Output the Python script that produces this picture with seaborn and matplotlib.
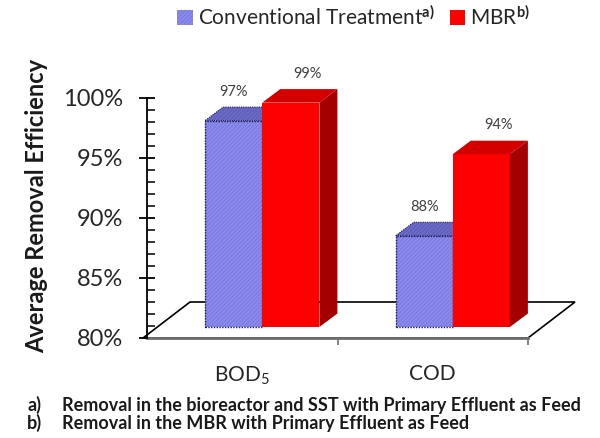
import numpy as np
import pandas as pd
import matplotlib
matplotlib.use("Agg")
import matplotlib.pyplot as plt
import matplotlib.transforms as mtransforms
from matplotlib.patches import Polygon, Rectangle, Patch
from matplotlib.ticker import MultipleLocator, FixedLocator, FuncFormatter
import seaborn as sns

# ---------------- data ----------------
parameters = ["BOD$_5$", "COD"]
processes = ["Conventional Treatment", "MBR"]
process_marks = ["a)", "b)"]
conventional = [97.2, 87.6]
mbr = [98.7, 94.4]
base_value = 80
y_tick_values = [80, 85, 90, 95, 100]
note_marks = ["a)", "b)"]
notes = ["Removal in the bioreactor and SST with Primary Effluent as Feed",
         "Removal in the MBR with Primary Effluent as Feed"]
y_label = "Average Removal Efficiency"

# ---------------- style ----------------
sns.set_theme(style="white")
plt.rcParams["font.family"] = ["Lato", "DejaVu Sans"]
plt.rcParams["mathtext.fontset"] = "custom"
plt.rcParams["mathtext.rm"] = "Lato"
plt.rcParams["mathtext.it"] = "Lato:italic"
plt.rcParams["mathtext.bf"] = "Lato:bold"
plt.rcParams["hatch.linewidth"] = 0.5

front_colors = {"Conventional Treatment": "#8a8aee", "MBR": "#ff0000"}
top_colors = ["#6a6ac6", "#d40000"]
side_colors = ["#5252a8", "#a50000"]
hatch_colors = ["#7474d6", None]
label_dx = [0, 17]
HATCH = "////////"

SHIFT = (20, 11)      # pixels: bars sit mid-depth on the floor
DEPTH = (18, 13.5)    # pixels: bar depth
FLOOR = (47, 36)      # pixels: floor depth

df = pd.DataFrame({
    "parameter": parameters * 2,
    "process": [processes[0]] * len(parameters) + [processes[1]] * len(parameters),
    "value": conventional + mbr,
})

fig = plt.figure(figsize=(6, 4.38), dpi=100)
ax = fig.add_axes([147 / 600, 100 / 438, 381 / 600, 240 / 438])

sns.barplot(data=df, x="parameter", y="value", hue="process", order=parameters,
            hue_order=processes, palette=front_colors, saturation=1, width=0.6,
            errorbar=None, linewidth=0, legend=False, ax=ax)

ax.set_xlim(-0.5, len(parameters) - 0.5)
ax.set_ylim(y_tick_values[0], y_tick_values[-1])

def disp(x, y):
    return ax.transData.transform((x, y))

# floor
xl, xr = ax.get_xlim()
y0 = ax.get_ylim()[0]
fl = disp(xl, y0) + (-4, 0)
fr = disp(xr, y0)
floor = Polygon([fl, fr, fr + FLOOR, fl + FLOOR], closed=True, facecolor="white",
                edgecolor="black", linewidth=1.2, transform=mtransforms.IdentityTransform(),
                clip_on=False, zorder=1)
ax.add_patch(floor)

shift_trans = mtransforms.offset_copy(ax.transData, fig=fig, x=SHIFT[0], y=SHIFT[1], units="dots")
for h, cont in enumerate(ax.containers):
    for i, p in enumerate(cont.patches):
        z = 3 + h
        top_val = p.get_y() + p.get_height()
        # bars rise from the floor of the value axis
        p.set_y(y0)
        p.set_height(top_val - y0)
        p.set_transform(shift_trans)
        p.set_clip_on(False)
        p.set_zorder(z)
        x0, w = p.get_x(), p.get_width()
        yb, y1 = p.get_y(), p.get_y() + p.get_height()
        A = disp(x0, y1) + SHIFT
        B = disp(x0 + w, y1) + SHIFT
        C = disp(x0 + w, yb) + SHIFT
        D = np.array(DEPTH)
        top = Polygon([A, B, B + D, A + D], closed=True, facecolor=top_colors[h],
                      edgecolor="none", transform=mtransforms.IdentityTransform(),
                      clip_on=False, zorder=z)
        side = Polygon([C, B, B + D, C + D], closed=True, facecolor=side_colors[h],
                       edgecolor="none", transform=mtransforms.IdentityTransform(),
                       clip_on=False, zorder=z)
        ax.add_patch(top)
        ax.add_patch(side)
        if hatch_colors[h] is not None:
            p.set_hatch(HATCH)
            p.set_edgecolor(hatch_colors[h])
            top.set_hatch(HATCH)
            top.set_edgecolor("#5a5ab4")
            top.set_linewidth(0)
            outline = Rectangle((x0, yb), w, y1 - yb, fill=False, edgecolor="#1c1c5c",
                                linewidth=1.0, linestyle=(0, (1, 1)), transform=shift_trans,
                                clip_on=False, zorder=z + 0.1)
            ax.add_patch(outline)
            top_outline = Polygon([A, B, B + D, A + D], closed=True, fill=False,
                                  edgecolor="#1c1c5c", linewidth=0.8, linestyle=(0, (1, 1)),
                                  transform=mtransforms.IdentityTransform(), clip_on=False,
                                  zorder=z + 0.1)
            ax.add_patch(top_outline)
        ax.annotate(f"{y1:.0f}%", xy=(x0 + w / 2, y1), xytext=(SHIFT[0] + label_dx[h], SHIFT[1] + 29),
                    textcoords="offset pixels", ha="center", va="center", fontsize=10.5,
                    color="#404040", annotation_clip=False, zorder=10)

# axes styling
for s in ["top", "right"]:
    ax.spines[s].set_visible(False)
ax.spines["left"].set_color("black")
ax.spines["left"].set_linewidth(1.3)
ax.spines["bottom"].set_color("#6e6e6e")
ax.spines["bottom"].set_linewidth(2)
ax.spines["bottom"].set_zorder(2)

ax.yaxis.set_major_locator(FixedLocator(y_tick_values))
ax.yaxis.set_minor_locator(MultipleLocator(1))
ax.yaxis.set_major_formatter(FuncFormatter(lambda v, pos: f"{v:.0f}%"))
ax.tick_params(axis="y", which="major", left=True, direction="inout", length=11, width=1.3,
               color="black", labelsize=17, pad=12, labelcolor="#262626")
ax.tick_params(axis="y", which="minor", left=True, direction="in", length=6, width=1.1, color="black")

ax.xaxis.set_minor_locator(FixedLocator(np.arange(len(parameters)) + 0.5))
ax.tick_params(axis="x", which="minor", bottom=True, direction="out", length=5, width=1.2, color="#6e6e6e")
ax.tick_params(axis="x", which="major", bottom=False, labelsize=15, pad=13, labelcolor="#262626")
ax.set_xlabel("")
ax.set_ylabel("")

fig.text(37 / 600, 1 - 206 / 438, y_label, rotation=90, ha="center", va="center",
         fontsize=17, fontweight="bold", color="#1a1a1a")

# legend
handles = [Patch(facecolor=front_colors[processes[0]], edgecolor=hatch_colors[0], hatch=HATCH, linewidth=0),
           Patch(facecolor=front_colors[processes[1]], linewidth=0)]
labels = [f"{p}$^{{\\mathbf{{{m}}}}}$" for p, m in zip(processes, process_marks)]
ax.legend(handles, labels, loc="center", bbox_to_anchor=(0.543, 1.3375), ncol=2, frameon=False,
          fontsize=15, handlelength=0.75, handleheight=0.75, handletextpad=0.25, columnspacing=0.7,
          borderaxespad=0)

# footnotes
for k, (m, n) in enumerate(zip(note_marks, notes)):
    yy = 1 - (405 + 18 * k) / 438
    fig.text(27 / 600, yy, m, ha="left", va="center", fontsize=13, fontweight="bold", color="#1a1a1a")
    fig.text(62 / 600, yy, n, ha="left", va="center", fontsize=13, fontweight="bold", color="#1a1a1a")

fig.savefig("out.png", dpi=100)
